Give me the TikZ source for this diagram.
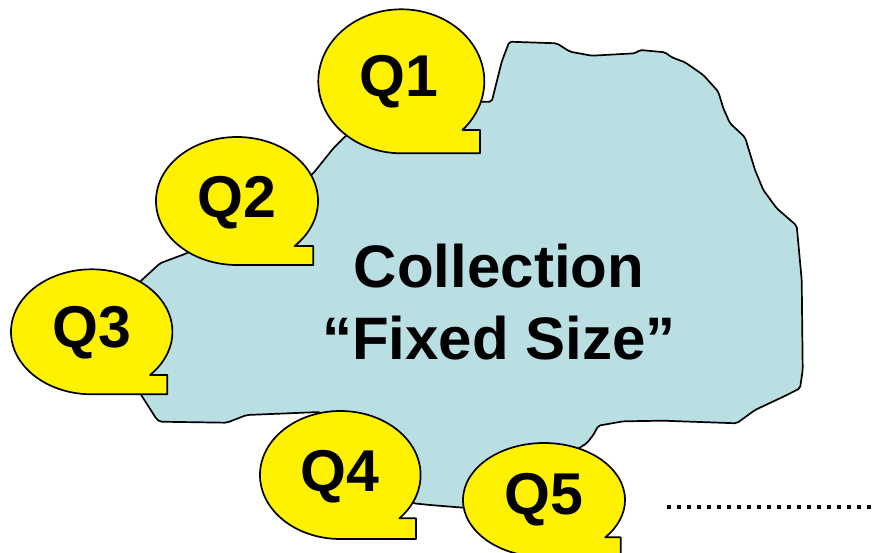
\documentclass[tikz,border=0pt]{standalone}
\usepackage{fontspec}
\setmainfont{Liberation Sans}
\usepackage{tikz}
\usetikzlibrary{calc,positioning}
\usepackage{xcolor}
\definecolor{blobblue}{RGB}{185,223,227}

\begin{document}
\begin{tikzpicture}[x=1pt, y=-1pt,
            bubble/.style={fill=yellow, draw=black, line width=1.7pt, line join=round},
            qlabel/.style={font=\fontsize{59}{60}\selectfont\bfseries, inner sep=0pt},
            collabel/.style={font=\fontsize{60}{72}\selectfont\bfseries, align=center, inner sep=0pt}]
            % picture frame, 877 x 553
            \clip (0,0) rectangle (877,553);

            % Collection blob
            \filldraw[fill=blobblue, draw=black, line width=1.7pt, line join=round, rounded corners=2pt]
                (460,101.7) -- (491.7,101.7) -- (501.7,61.7) -- (509.3,41.7) -- (556.7,43.3)
                -- (570,51.7) -- (591.7,55.7) -- (635,53.3) -- (640,50) -- (665,52.3)
                -- (671.7,57.3) -- (685,62.3) -- (703.3,75) -- (718.3,91.7) -- (723.3,108.3)
                -- (730,123.3) -- (745,137.3) -- (755,170) -- (763.3,190) -- (776.7,208.3)
                -- (796.7,225.7) -- (801.7,280) -- (802.7,370) -- (800,388.3) -- (783.3,396.7)
                -- (755,410) -- (736.7,423.3) -- (663.3,420.7) -- (623.3,421.3) -- (598.3,425.7)
                -- (593.3,435) -- (586.7,443.3) -- (560,460) -- (520,500) -- (463.3,507.7)
                -- (430,505) -- (413.3,503.3) -- (380,480) -- (320,412) -- (246.7,415)
                -- (226.7,422.7) -- (160,421.7) -- (156.7,419.3) -- (143.3,398.3) -- (140,393.3)
                -- (120,330) -- (140,281.7) -- (160,263.3) -- (186.7,253.3) -- (250,220)
                -- (313.3,173.3) -- (333.3,148.3) -- (346.7,135) -- (400,110) -- cycle;

            % Speech bubbles: ellipse with a square tail at the lower right
            \filldraw[bubble] (401.3,153.3) arc[start angle=90, end angle=402.5, x radius=83, y radius=72] -| (480,153.3) -- cycle;
            \filldraw[bubble] (237,265) arc[start angle=90, end angle=404.7, x radius=81, y radius=64] -| (313.3,265) -- cycle;
            \filldraw[bubble] (91.7,394.3) arc[start angle=90, end angle=403.7, x radius=80.7, y radius=62.5] -| (167.3,394.3) -- cycle;
            \filldraw[bubble] (340.3,539) arc[start angle=90, end angle=402.6, x radius=80.3, y radius=64] -| (416,539) -- cycle;
            \filldraw[bubble] (544,557) arc[start angle=90, end angle=400.9, x radius=81, y radius=57] -| (620.7,557) -- cycle;

            % Labels
            \node[qlabel] (q1) at (399,82) {Q1};
            \node[qlabel] (q2) at (237,203) {Q2};
            \node[qlabel] (q3) at (91.7,332.5) {Q3};
            \node[qlabel] (q4) at (340.3,476.5) {Q4};
            \node[qlabel] (q5) at (544,500) {Q5};
            \node[collabel] (coll) at (499,302) {Collection\\“Fixed Size”};

            % trailing dots
            \coordinate (dotsstart) at (667,506.7);
            \coordinate (dotsend) at (880,506.7);
            \draw[line width=4pt, dash pattern=on 4pt off 6pt] (dotsstart) -- (dotsend);
\end{tikzpicture}
\end{document}
